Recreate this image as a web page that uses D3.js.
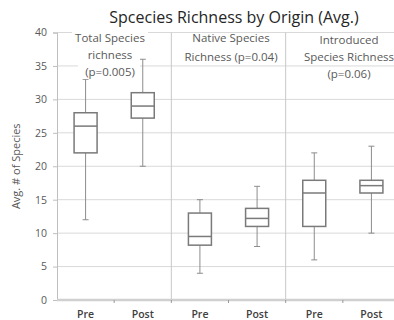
<!DOCTYPE html>
<html>
<head>
<meta charset="utf-8">
<script src="https://cdn.jsdelivr.net/npm/d3@7"></script>
<style>
body { margin: 0; background: #fff; }
text { font-family: 'Open Sans', sans-serif; }
</style>
</head>
<body>
<script>
// data
var groups = ['Total', 'Native', 'Introduced'];
var periods = ['Pre', 'Post', 'Pre', 'Post', 'Pre', 'Post'];
var minVals = [12, 20, 4, 8, 6, 10];
var q1Vals = [22, 27.2, 8.2, 11, 11, 16];
var medVals = [26, 29, 9.5, 12.2, 16, 17.1];
var q3Vals = [28, 31, 13, 13.7, 17.9, 17.9];
var maxVals = [33, 36, 15, 17, 22, 23];
var groupLabels = [
    ['Total Species', 'richness', '(p=0.005)'],
    ['Native Species', 'Richness (p=0.04)'],
    ['Introduced', 'Species Richness', '(p=0.06)']
];
var yTicks = [0, 5, 10, 15, 20, 25, 30, 35, 40];

width = 394;
height = 320;

svg = d3.select('body')
    .append('svg')
    .attr('width', width)
    .attr('height', height)

var mLeft = 57, mRight = 400, mTop = 32.5, mBottom = 300;

//scales
var xScale = d3.scaleBand()
    .domain(d3.range(periods.length))
    .range([mLeft, mRight])

var gScale = d3.scaleBand()
    .domain(groups)
    .range([mLeft, mRight])

var yScale = d3.scaleLinear()
    .domain([0, 40])
    .range([mBottom, mTop])

//gridlines
svg.append('g')
    .selectAll('line')
    .data(yTicks.slice(1))
    .enter().append('line')
    .attr('x1', mLeft)
    .attr('x2', mRight)
    .attr('y1', d => yScale(d))
    .attr('y2', d => yScale(d))
    .attr('stroke', '#d9d9d9')
    .attr('stroke-width', 1)

// group separators
svg.append('g')
    .selectAll('line')
    .data(groups.slice(1))
    .enter().append('line')
    .attr('x1', d => gScale(d))
    .attr('x2', d => gScale(d))
    .attr('y1', mTop)
    .attr('y2', mBottom)
    .attr('stroke', '#c8c8c8')

//y axis
var yAxis = svg.append('g')
    .attr('transform', 'translate(' + mLeft + ',0)')
    .call(d3.axisLeft(yScale).tickValues(yTicks).tickSize(4).tickPadding(6))
yAxis.select('.domain').attr('stroke', '#bfbfbf')
yAxis.selectAll('.tick line').attr('stroke', '#bfbfbf')
yAxis.selectAll('.tick text')
    .attr('fill', '#595959')
    .style('font-size', '10.5px')
    .style('font-family', "'Open Sans', sans-serif")

//x axis
svg.append('line')
    .attr('x1', mLeft)
    .attr('x2', mRight)
    .attr('y1', mBottom)
    .attr('y2', mBottom)
    .attr('stroke', '#d0d0d0')
    .attr('stroke-width', 2.5)

svg.append('g')
    .selectAll('line')
    .data(d3.range(1, periods.length))
    .enter().append('line')
    .attr('x1', d => xScale(d))
    .attr('x2', d => xScale(d))
    .attr('y1', mBottom)
    .attr('y2', mBottom + 3)
    .attr('stroke', '#999')

svg.append('g')
    .selectAll('text')
    .data(periods)
    .enter().append('text')
    .attr('x', (d, i) => xScale(i) + xScale.bandwidth() / 2)
    .attr('y', 318)
    .attr('text-anchor', 'middle')
    .attr('fill', '#404040')
    .style('font-size', '10.5px')
    .style('font-weight', '600')
    .text(d => d)

//boxes
var boxW = 23, capW = 6;
var boxes = svg.append('g')
    .selectAll('g')
    .data(periods.map((p, i) => i))
    .enter().append('g')
    .attr('transform', i => 'translate(' + (xScale(i) + xScale.bandwidth() / 2) + ',0)')

boxes.append('line')
    .attr('y1', i => yScale(maxVals[i]))
    .attr('y2', i => yScale(minVals[i]))
    .attr('stroke', '#8c8c8c')
    .attr('stroke-width', 1)

boxes.append('line')
    .attr('x1', -capW / 2).attr('x2', capW / 2)
    .attr('y1', i => yScale(maxVals[i]))
    .attr('y2', i => yScale(maxVals[i]))
    .attr('stroke', '#8c8c8c')

boxes.append('line')
    .attr('x1', -capW / 2).attr('x2', capW / 2)
    .attr('y1', i => yScale(minVals[i]))
    .attr('y2', i => yScale(minVals[i]))
    .attr('stroke', '#8c8c8c')

boxes.append('rect')
    .attr('x', -boxW / 2)
    .attr('width', boxW)
    .attr('y', i => yScale(q3Vals[i]))
    .attr('height', i => yScale(q1Vals[i]) - yScale(q3Vals[i]))
    .attr('fill', 'white')
    .attr('stroke', '#7a7a7a')
    .attr('stroke-width', 1.5)

boxes.append('line')
    .attr('x1', -boxW / 2).attr('x2', boxW / 2)
    .attr('y1', i => yScale(medVals[i]))
    .attr('y2', i => yScale(medVals[i]))
    .attr('stroke', '#7a7a7a')
    .attr('stroke-width', 1.5)

//group labels (first one sits on a white box)
var labelCx = [110, 231, 349];
var labelY = [
    [38, 55, 72],
    [38, 57],
    [40, 57, 74]
];

svg.append('rect')
    .attr('x', 72).attr('width', 76)
    .attr('y', 31).attr('height', 15)
    .attr('fill', 'white')
svg.append('rect')
    .attr('x', 78).attr('width', 62)
    .attr('y', 46).attr('height', 33)
    .attr('fill', 'white')

var lbl = svg.append('g')
    .selectAll('g')
    .data(groupLabels)
    .enter().append('g')

lbl.each(function(d, i) {
    d3.select(this).selectAll('text')
        .data(d)
        .enter().append('text')
        .attr('x', labelCx[i])
        .attr('y', (t, j) => labelY[i][j] + 4)
        .attr('text-anchor', 'middle')
        .attr('fill', '#595959')
        .style('font-size', '11.5px')
        .text(t => t)
})

//title
svg.append('text')
    .text('Spcecies Richness by Origin (Avg.)')
    .attr('x', 234)
    .attr('y', 23)
    .attr('text-anchor', 'middle')
    .attr('fill', '#262626')
    .style('font-size', '16px')

//y label
svg.append('text')
    .text('Avg. # of Species')
    .attr('transform', 'translate(20,' + ((mTop + mBottom) / 2) + ') rotate(-90)')
    .attr('text-anchor', 'middle')
    .attr('fill', '#595959')
    .style('font-size', '11px')
</script>
</body>
</html>
